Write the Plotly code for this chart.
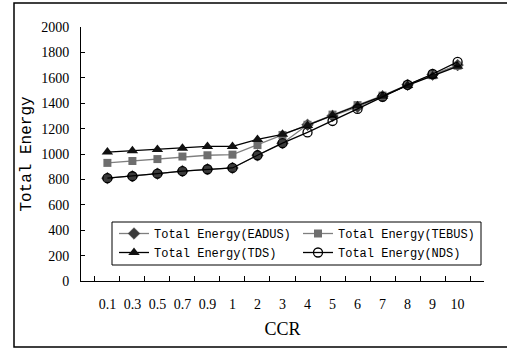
import plotly.graph_objects as go

ccr = ["0.1", "0.3", "0.5", "0.7", "0.9", "1", "2", "3", "4", "5", "6", "7", "8", "9", "10"]
eadus = [810, 825, 845, 865, 880, 890, 990, 1085, 1230, 1300, 1370, 1455, 1545, 1625, 1700]
tebus = [930, 945, 960, 980, 990, 995, 1070, 1150, 1230, 1310, 1385, 1460, 1545, 1620, 1695]
tds = [1015, 1025, 1035, 1045, 1060, 1060, 1115, 1155, 1225, 1305, 1380, 1455, 1540, 1615, 1690]
nds = [810, 825, 845, 865, 880, 890, 990, 1085, 1170, 1260, 1355, 1450, 1545, 1630, 1725]
y_ticks = list(range(0, 2001, 200))

W, H = 507, 355
L, R, T, B = 81, 23, 27, 74
pw, ph = W - L - R, H - T - B

mono = "Liberation Mono"
serif = "Liberation Serif"


def px_x(p):
    return (p - L) / pw


def px_y(p):
    return (H - B - p) / ph


fig = go.Figure()
fig.add_trace(go.Scatter(x=ccr, y=eadus, name="Total Energy(EADUS)", mode="lines+markers", legend="legend",
                         line=dict(color="#7f7f7f", width=1.3),
                         marker=dict(symbol="diamond", size=9, color="#3a3a3a", line=dict(color="#3a3a3a", width=0.5))))
fig.add_trace(go.Scatter(x=ccr, y=tebus, name="Total Energy(TEBUS)", mode="lines+markers", legend="legend2",
                         line=dict(color="#7f7f7f", width=1.3),
                         marker=dict(symbol="square", size=8, color="#6e6e6e", line=dict(width=0))))
fig.add_trace(go.Scatter(x=ccr, y=tds, name="Total Energy(TDS)", mode="lines+markers", legend="legend",
                         line=dict(color="#000000", width=1.3),
                         marker=dict(symbol="triangle-up", size=10, color="#111111", line=dict(width=0))))
fig.add_trace(go.Scatter(x=ccr, y=nds, name="Total Energy(NDS)", mode="lines+markers", legend="legend2",
                         line=dict(color="#000000", width=1.3),
                         marker=dict(symbol="circle-open", size=9, color="#000000", line=dict(width=1.3))))

leg_common = dict(orientation="v", xanchor="left", yanchor="top", borderwidth=0,
                  bgcolor="rgba(0,0,0,0)", font=dict(family=mono, size=12, color="black"),
                  itemwidth=30, tracegroupgap=0, traceorder="normal")

fig.update_layout(
    width=W, height=H,
    margin=dict(l=L, r=R, t=T, b=B),
    paper_bgcolor="white", plot_bgcolor="white",
    showlegend=True,
    legend=dict(x=px_x(114), y=px_y(219), **leg_common),
    legend2=dict(x=px_x(298), y=px_y(219), **leg_common),
    xaxis=dict(type="category", tickson="boundaries", ticks="inside", ticklen=5, tickcolor="black",
               showline=True, linecolor="black", linewidth=1, showgrid=False, zeroline=False,
               tickangle=0, ticklabelstandoff=10,
               tickfont=dict(family=serif, size=14, color="black"),
               title=dict(text="CCR", font=dict(family=serif, size=18, color="black"), standoff=11)),
    yaxis=dict(range=[0, 2000], tickvals=y_ticks, ticks="inside", ticklen=4, tickcolor="black",
               showline=True, linecolor="black", linewidth=1, showgrid=False, zeroline=False,
               ticklabelstandoff=8,
               tickfont=dict(family=serif, size=14, color="black"),
               title=dict(text="Total Energy", font=dict(family=mono, size=16, color="black"), standoff=5)),
    shapes=[
        dict(type="rect", xref="paper", yref="paper",
             x0=px_x(14), x1=px_x(W + 2), y0=px_y(347), y1=px_y(3),
             line=dict(color="black", width=1.5), layer="below"),
        dict(type="rect", xref="paper", yref="paper",
             x0=px_x(112), x1=px_x(481), y0=px_y(265), y1=px_y(222),
             line=dict(color="black", width=1), fillcolor="white", layer="below"),
    ],
)

fig.write_html("out.html")
